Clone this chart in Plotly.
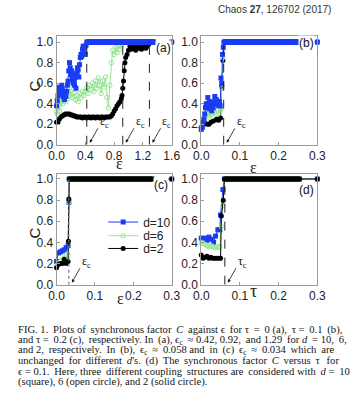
import re
import numpy as np
import plotly.graph_objects as go

W, H = 353, 410

# ---------------- data ----------------
# (a) tau = 0, C vs epsilon
a_eps_d10 = [0.00,0.01,0.02,0.03,0.04,0.05,0.06,0.07,0.08,0.09,0.10,0.11,0.12,0.13,0.14,0.15,0.16,0.17,0.18,0.19,0.20,
             0.21,0.22,0.23,0.24,0.25,0.26,0.27,0.28,0.29,0.30,0.31,0.32,0.33,0.34,0.35,0.36,0.37,0.38,0.39,0.40,0.41]
a_C_d10 = [0.38,0.43,0.48,0.52,0.56,0.55,0.50,0.58,0.55,0.47,0.52,0.44,0.50,0.47,0.52,0.58,0.62,0.72,0.80,0.75,0.68,
           0.72,0.64,0.60,0.68,0.58,0.66,0.55,0.70,0.75,0.73,0.66,0.78,0.85,0.88,0.86,0.93,0.96,0.88,0.95,0.88,0.97]
a_eps_d6 = [0.00,0.01,0.02,0.03,0.04,0.05,0.06,0.07,0.08,0.09,0.10,0.11,0.12,0.13,0.14,0.15,0.16,0.17,0.18,0.19,0.20,
            0.22,0.24,0.26,0.28,0.30,0.32,0.34,0.36,0.38,0.40,0.42,0.44,0.46,0.48,0.50,0.52,0.54,0.56,0.58,0.60,
            0.62,0.64,0.66,0.68,0.70,0.72,0.74,0.76,0.78,0.80,0.82,0.84,0.86,0.88,0.90]
a_C_d6 = [0.32,0.30,0.35,0.38,0.33,0.40,0.45,0.42,0.48,0.40,0.44,0.50,0.46,0.42,0.48,0.52,0.45,0.50,0.55,0.48,0.52,
          0.46,0.50,0.44,0.48,0.42,0.50,0.46,0.52,0.48,0.52,0.56,0.50,0.58,0.54,0.60,0.52,0.62,0.55,0.65,0.58,
          0.50,0.62,0.56,0.66,0.46,0.36,0.58,0.80,0.92,0.88,0.95,0.90,0.96,0.93,0.97]
a_eps_d2 = [0.00,0.02,0.04,0.06,0.08,0.10,0.12,0.14,0.16,0.18,0.20,0.22,0.24,0.26,0.28,0.30,0.32,0.34,0.36,0.38,0.40,
            0.42,0.44,0.46,0.48,0.50,0.52,0.54,0.56,0.58,0.60,0.62,0.64,0.66,0.68,0.70,0.72,0.74,0.76,0.78,0.80,
            0.82,0.84,0.86,0.88,0.90,0.91,0.92,0.93,0.94,0.95,0.96,0.98,1.00,1.02,1.04,1.06,1.08,1.10,1.12,1.14,
            1.16,1.18,1.20,1.22,1.24,1.26,1.28]
a_C_d2 = [0.22,0.22,0.25,0.27,0.28,0.29,0.30,0.30,0.30,0.30,0.29,0.29,0.28,0.28,0.27,0.27,0.27,0.27,0.26,0.27,0.27,
          0.26,0.27,0.27,0.26,0.27,0.27,0.26,0.27,0.27,0.26,0.27,0.27,0.26,0.27,0.27,0.27,0.27,0.28,0.30,0.33,
          0.35,0.38,0.40,0.42,0.45,0.48,0.55,0.62,0.72,0.80,0.85,0.88,0.92,0.96,0.93,0.97,0.95,0.92,0.96,0.94,
          0.97,0.93,0.95,0.97,0.94,0.96,0.98]
a_sync = {"d10": 0.42, "d6": 0.92, "d2": 1.29}   # epsilon_c values
a_plateau_end, a_step, a_edge = 1.35, 0.01, 1.6

# (b) tau = 0.1
b_eps_d10 = [0.000,0.003,0.005,0.007,0.009,0.011,0.013,0.015,0.017,0.019,0.021,0.023,0.025,0.027,0.029,0.031,
             0.033,0.035,0.037,0.039,0.041,0.043,0.045,0.047,0.049,0.051,0.053,0.055,0.057]
b_C_d10 = [0.15,0.17,0.22,0.25,0.30,0.36,0.40,0.38,0.46,0.40,0.35,0.42,0.38,0.33,0.40,0.36,
           0.42,0.47,0.40,0.44,0.42,0.40,0.38,0.42,0.38,0.65,0.60,0.88,0.95]
b_eps_d6 = [0.000,0.004,0.008,0.012,0.015,0.018,0.022,0.026,0.030,0.034,0.038,0.042,0.046,0.050,0.053,0.056]
b_C_d6 = [0.18,0.22,0.26,0.28,0.31,0.27,0.29,0.30,0.28,0.32,0.30,0.33,0.31,0.34,0.55,0.85]
b_eps_d2 = [0.000,0.005,0.010,0.015,0.020,0.025,0.030,0.035,0.040,0.045,0.050,0.053,0.056]
b_C_d2 = [0.17,0.20,0.21,0.20,0.20,0.22,0.23,0.24,0.25,0.24,0.26,0.57,0.82]
b_sync = 0.058
b_start, b_plateau_end, b_step, b_edge = 0.059, 0.25, 0.002, 0.3

# (c) tau = 0.2
c_eps_d10 = [0.000,0.005,0.010,0.015,0.020,0.025,0.030,0.032]
c_C_d10 = [0.22,0.30,0.31,0.32,0.33,0.35,0.37,0.78]
c_eps_d6 = [0.000,0.005,0.010,0.015,0.020,0.025,0.030,0.032]
c_C_d6 = [0.18,0.20,0.22,0.24,0.25,0.27,0.28,0.78]
c_eps_d2 = [0.000,0.005,0.010,0.015,0.020,0.025,0.030,0.031,0.032]
c_C_d2 = [0.16,0.19,0.20,0.20,0.24,0.20,0.22,0.41,0.81]
c_sync = 0.032
c_start, c_plateau_end, c_step, c_edge = 0.033, 0.25, 0.002, 0.3

# (d) epsilon = 0.1, C vs tau
d_tau_d10 = [0.000,0.009,0.015,0.020,0.026,0.032,0.037,0.043,0.048,0.050,0.056]
d_C_d10 = [0.44,0.44,0.42,0.45,0.43,0.40,0.46,0.52,0.52,0.66,0.90]
d_tau_d6 = [0.000,0.005,0.010,0.015,0.020,0.025,0.030,0.035,0.040,0.045,0.048,0.052,0.056]
d_C_d6 = [0.40,0.39,0.38,0.37,0.36,0.37,0.36,0.35,0.36,0.35,0.36,0.55,0.75]
d_tau_d2 = [0.000,0.005,0.010,0.015,0.020,0.025,0.030,0.035,0.040,0.045,0.050,0.052,0.057]
d_C_d2 = [0.28,0.25,0.26,0.27,0.25,0.26,0.25,0.25,0.25,0.25,0.25,0.65,0.80]
d_sync = 0.061
d_start, d_plateau_end, d_step, d_edge = 0.060, 0.255, 0.002, 0.3

legend_names = ["d=10", "d=6", "d=2"]
ticks_a = [0.0, 0.4, 0.8, 1.2, 1.6]
ticks_b = [0.0, 0.1, 0.2, 0.3]
ticks_C = [0.0, 0.2, 0.4, 0.6, 0.8, 1.0]

# ---------------- styling ----------------
BLUE = "#1a3cf5"
GREEN = "#94e694"
BLACK = "#000000"
style = {
    "d=10": dict(line=dict(color=BLUE, width=1), marker=dict(symbol="square", size=5, color=BLUE)),
    "d=6": dict(line=dict(color=GREEN, width=1), marker=dict(symbol="circle-open", size=4.5, color=GREEN, line=dict(width=1, color=GREEN))),
    "d=2": dict(line=dict(color=BLACK, width=1), marker=dict(symbol="circle", size=5, color=BLACK)),
}


def with_plateau(xs, ys, start, end, step, edge):
    px_ = list(np.round(np.arange(start, end + step / 2, step), 4))
    return list(xs) + px_ + [edge], list(ys) + [1.0] * len(px_) + [1.0]


fig = go.Figure()


def add(name, xs, ys, xa, ya, legend=None):
    st = style[name]
    fig.add_trace(go.Scatter(
        x=xs, y=ys, mode="lines+markers", name=name, xaxis=xa, yaxis=ya,
        line=st["line"], marker=st["marker"], cliponaxis=False,
        showlegend=legend is not None, legend=legend if legend else "legend",
    ))


# (a): blue on top
x, y = with_plateau(a_eps_d2, a_C_d2, a_sync["d2"], a_plateau_end, a_step, a_edge)
add("d=2", x, y, "x", "y")
x, y = with_plateau(a_eps_d6, a_C_d6, a_sync["d6"], a_plateau_end, a_step, a_edge)
add("d=6", x, y, "x", "y")
x, y = with_plateau(a_eps_d10, a_C_d10, a_sync["d10"], a_plateau_end, a_step, a_edge)
add("d=10", x, y, "x", "y")

# (b): blue on top
x, y = with_plateau(b_eps_d2, b_C_d2, b_start, b_plateau_end, b_step, b_edge)
add("d=2", x, y, "x2", "y2")
x, y = with_plateau(b_eps_d6, b_C_d6, b_start, b_plateau_end, b_step, b_edge)
add("d=6", x, y, "x2", "y2")
x, y = with_plateau(b_eps_d10, b_C_d10, b_start, b_plateau_end, b_step, b_edge)
add("d=10", x, y, "x2", "y2")

# (c): black on top, holds legend
x, y = with_plateau(c_eps_d10, c_C_d10, c_start, c_plateau_end, c_step, c_edge)
add("d=10", x, y, "x3", "y3", legend="legend")
x, y = with_plateau(c_eps_d6, c_C_d6, c_start, c_plateau_end, c_step, c_edge)
add("d=6", x, y, "x3", "y3", legend="legend2")
x, y = with_plateau(c_eps_d2, c_C_d2, c_start, c_plateau_end, c_step, c_edge)
add("d=2", x, y, "x3", "y3", legend="legend3")

# (d): black on top
x, y = with_plateau(d_tau_d10, d_C_d10, d_start, d_plateau_end, d_step, d_edge)
add("d=10", x, y, "x4", "y4")
x, y = with_plateau(d_tau_d6, d_C_d6, d_start, d_plateau_end, d_step, d_edge)
add("d=6", x, y, "x4", "y4")
x, y = with_plateau(d_tau_d2, d_C_d2, d_start, d_plateau_end, d_step, d_edge)
add("d=2", x, y, "x4", "y4")

# ---------------- axes ----------------
px = lambda v: v / W
py = lambda v: 1 - v / H
dom_xl = [px(51), px(172)]
dom_xr = [px(203), px(325)]
dom_yt = [py(146), py(35)]
dom_yb = [py(289), py(176)]

TICKFONT = dict(family="Liberation Sans, Arial", size=12, color="#222")
axis_common = dict(showline=True, mirror=True, linecolor="#9a9a9a", linewidth=1, showgrid=False,
                   zeroline=False, ticks="inside", ticklen=3, tickcolor="#9a9a9a", tickfont=TICKFONT)

layout_axes = {
    "xaxis": dict(domain=dom_xl, range=[0, 1.6], tickvals=ticks_a, ticktext=["%.1f" % t for t in ticks_a], anchor="y", **axis_common),
    "yaxis": dict(domain=dom_yt, range=[0, 1.057], tickvals=ticks_C, ticktext=["%.1f" % t for t in ticks_C], anchor="x", **axis_common),
    "xaxis2": dict(domain=dom_xr, range=[0, 0.3], tickvals=ticks_b, ticktext=["%.1f" % t for t in ticks_b], anchor="y2", **axis_common),
    "yaxis2": dict(domain=dom_yt, range=[0, 1.057], tickvals=ticks_C, ticktext=["%.1f" % t for t in ticks_C], anchor="x2", **axis_common),
    "xaxis3": dict(domain=dom_xl, range=[0, 0.3], tickvals=ticks_b, ticktext=["%.1f" % t for t in ticks_b], anchor="y3", **axis_common),
    "yaxis3": dict(domain=dom_yb, range=[0, 1.046], tickvals=ticks_C, ticktext=["%.1f" % t for t in ticks_C], anchor="x3", **axis_common),
    "xaxis4": dict(domain=dom_xr, range=[0, 0.3], tickvals=ticks_b, ticktext=["%.1f" % t for t in ticks_b], anchor="y4", **axis_common),
    "yaxis4": dict(domain=dom_yb, range=[0, 1.046], tickvals=ticks_C, ticktext=["%.1f" % t for t in ticks_C], anchor="x4", **axis_common),
}

# ---------------- shapes (critical lines) ----------------
shapes = []
for v in a_sync.values():
    shapes.append(dict(type="line", xref="x", yref="y", x0=v, x1=v, y0=0, y1=1.0,
                       line=dict(color="#222", width=1, dash="dash")))
shapes.append(dict(type="line", xref="x2", yref="y2", x0=b_sync, x1=b_sync, y0=0, y1=1.0,
                   line=dict(color="#222", width=1, dash="dash")))
shapes.append(dict(type="line", xref="x3", yref="y3", x0=c_sync, x1=c_sync, y0=0, y1=1.0,
                   line=dict(color="#777", width=1.2, dash="dot")))
shapes.append(dict(type="line", xref="x4", yref="y4", x0=d_sync, x1=d_sync, y0=0, y1=1.0,
                   line=dict(color="#222", width=1, dash="dash")))

annotations = []
SERIF = "Liberation Serif, Times New Roman, serif"


def crit(xv, xr, yr, label, dx=3):
    annotations.append(dict(x=xv, y=0.0, xref=xr, yref=yr, text="", showarrow=True,
                            ax=9, ay=-16, axref="pixel", ayref="pixel", arrowhead=2, arrowsize=0.8,
                            arrowwidth=0.8, arrowcolor="#111", xshift=dx, yshift=2))
    annotations.append(dict(x=xv, y=0.0, xref=xr, yref=yr, text=label, showarrow=False,
                            xanchor="left", yanchor="bottom", xshift=dx + 8, yshift=13,
                            font=dict(family=SERIF, size=12, color="#111")))


for v in a_sync.values():
    crit(v, "x", "y", "ε<sub>c</sub>")
crit(b_sync, "x2", "y2", "ε<sub>c</sub>")
crit(c_sync, "x3", "y3", "ε<sub>c</sub>")
crit(d_sync, "x4", "y4", "τ<sub>c</sub>")

# panel labels
for lab, (cx, cy) in {"(a)": (163, 47), "(b)": (314, 42), "(c)": (161, 187), "(d)": (314, 192)}.items():
    annotations.append(dict(x=px(cx), y=py(cy), xref="paper", yref="paper", text=lab, showarrow=False,
                            xanchor="center", yanchor="middle", bgcolor="white", borderpad=0,
                            font=dict(family="Liberation Sans, Arial", size=12, color="#111")))

# axis titles
AXT = dict(family=SERIF, size=16, color="#222")
annotations += [
    dict(x=px(17), y=py(78), xref="paper", yref="paper", text="C", showarrow=False, textangle=-90,
         font=dict(family="Liberation Sans, Arial", size=15, color="#222")),
    dict(x=px(17), y=py(236), xref="paper", yref="paper", text="C", showarrow=False, textangle=-90,
         font=dict(family="Liberation Sans, Arial", size=15, color="#222")),
    dict(x=px(111), y=py(165), xref="paper", yref="paper", text="ε", showarrow=False, font=AXT),
    dict(x=px(264), y=py(169), xref="paper", yref="paper", text="ε", showarrow=False, font=AXT),
    dict(x=px(112), y=py(314), xref="paper", yref="paper", text="ε", showarrow=False, font=AXT),
    dict(x=px(264), y=py(308), xref="paper", yref="paper", text="τ", showarrow=False, font=dict(family=SERIF, size=18, color="#222")),
]

# header
annotations.append(dict(x=px(218), y=py(8), xref="paper", yref="paper", xanchor="left", yanchor="middle",
                        text="Chaos <b>27</b>, 126702 (2017)", showarrow=False,
                        font=dict(family="Liberation Sans, Arial", size=10, color="#333")))

# caption
caption = [
    "FIG. 1. Plots of synchronous factor <i>C</i> against ϵ for τ = 0 (a), τ = 0.1 (b),",
    "and τ = 0.2 (c), respectively. In (a), ϵ<sub>c</sub> ≈ 0.42, 0.92, and 1.29 for <i>d</i> = 10, 6,",
    "and 2, respectively. In (b), ϵ<sub>c</sub> ≈ 0.058 and in (c) ϵ<sub>c</sub> ≈ 0.034 which are",
    "unchanged for different <i>d</i>'s. (d) The synchronous factor <i>C</i> versus τ for",
    "ϵ = 0.1. Here, three different coupling structures are considered with <i>d</i> = 10",
    "(square), 6 (open circle), and 2 (solid circle).",
]
cap_y = [335, 346, 356.7, 367.3, 378, 389]
CAP_FS = 10.6
CAP_LEFT, CAP_RIGHT = 8, 340

# approximate Times advance widths (per em), used only to justify caption lines
_TW = {" ": .25, ".": .25, ",": .25, "(": .333, ")": .333, "=": .564, "'": .18, "≈": .549, "ϵ": .42, "τ": .44,
       "F": .556, "I": .333, "G": .722, "P": .556, "C": .667, "H": .722, "T": .611}
_LOW = dict(zip("abcdefghijklmnopqrstuvwxyz",
                [.444, .5, .444, .5, .444, .333, .5, .5, .278, .278, .5, .278, .778, .5, .5, .5, .5, .333, .389, .278, .5, .5, .722, .5, .5, .444]))
EST_CAL = 0.96      # estimated -> rendered width
THIN_EM = 0.37      # rendered width of one U+2009 in em


def est_width(t, fs):
    w = 0.0
    for m in re.finditer(r"<sub>(.*?)</sub>|<[^>]*>|([^<]+)", t):
        if m.group(1) is not None:
            s, scale = m.group(1), 0.7
        elif m.group(2) is not None:
            s, scale = m.group(2), 1.0
        else:
            continue
        for ch in s:
            cw = _TW.get(ch) or _LOW.get(ch) or (.5 if ch.isdigit() else .6)
            w += cw * scale
    return w * fs * EST_CAL


def justify(t, fs):
    need = (CAP_RIGHT - CAP_LEFT) - est_width(t, fs)
    gaps = t.count(" ")
    thin = THIN_EM * fs
    n = max(0, int(need // thin))
    parts = t.split(" ")
    out = parts[0]
    for i, p in enumerate(parts[1:]):
        k = (n * (i + 1)) // gaps - (n * i) // gaps
        out += " " + "\u2009" * k + p
    return out


for i, (line, yy) in enumerate(zip(caption, cap_y)):
    txt = justify(line, CAP_FS) if i < len(caption) - 1 else line
    annotations.append(dict(x=px(CAP_LEFT), y=py(yy), xref="paper", yref="paper", xanchor="left", yanchor="middle",
                            text=txt, showarrow=False, font=dict(family=SERIF, size=CAP_FS, color="#151515")))

# legends (one per entry for exact placement)
LEGFONT = dict(family="Liberation Sans, Arial", size=12, color="#222")
legs = {}
for key, yy in zip(["legend", "legend2", "legend3"], [225, 239, 252]):
    legs[key] = dict(x=px(100), y=py(yy), xanchor="left", yanchor="middle", bgcolor="rgba(0,0,0,0)",
                     font=LEGFONT, borderwidth=0, tracegroupgap=0, itemwidth=30)

fig.update_layout(
    width=W, height=H, margin=dict(l=0, r=0, t=0, b=0),
    paper_bgcolor="white", plot_bgcolor="white",
    shapes=shapes, annotations=annotations,
    **layout_axes, **legs,
)

fig.write_html("out.html")
